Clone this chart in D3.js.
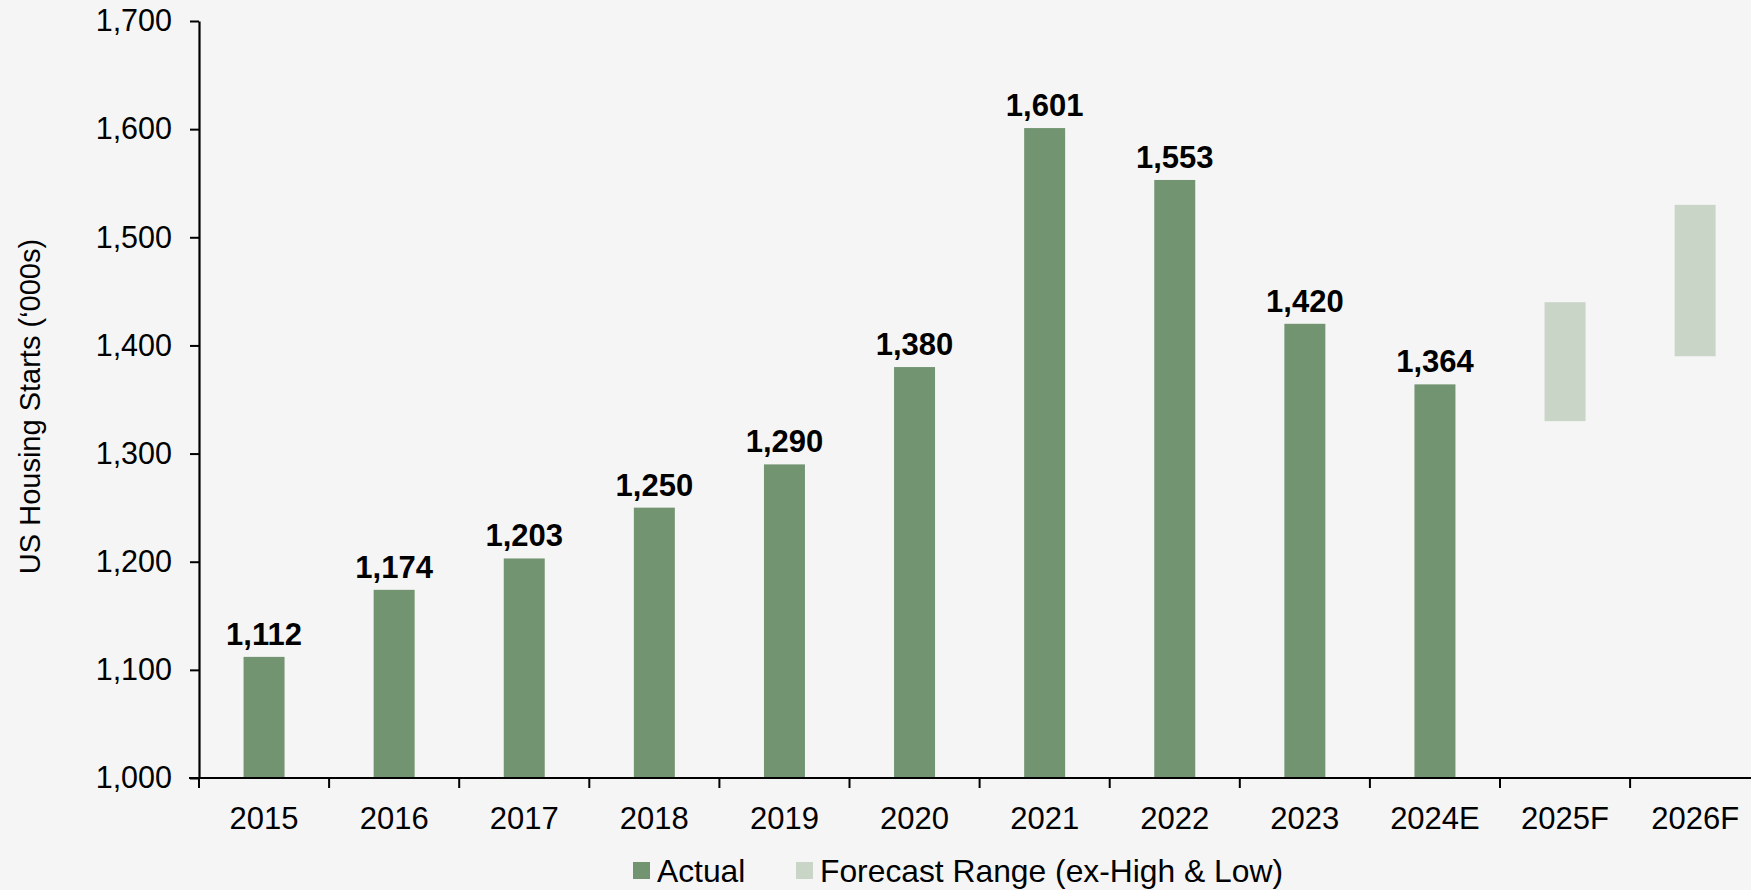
<!DOCTYPE html>
<html>
<head>
<meta charset="utf-8">
<script src="https://cdn.jsdelivr.net/npm/d3@7"></script>
<style>
  html, body { margin: 0; padding: 0; background: #f5f5f5; }
  svg { display: block; }
  text { font-family: "Liberation Sans", Arial, sans-serif; fill: #000; }
</style>
</head>
<body>
<svg id="chart" width="1751" height="890"></svg>
<script>
const categories = ["2015","2016","2017","2018","2019","2020","2021","2022","2023","2024E","2025F","2026F"];
const actualCats = ["2015","2016","2017","2018","2019","2020","2021","2022","2023","2024E"];
const actualValues = [1112, 1174, 1203, 1250, 1290, 1380, 1601, 1553, 1420, 1364];
const forecastCats = ["2025F","2026F"];
const forecastLow = [1330, 1390];
const forecastHigh = [1440, 1530];
const yTicks = [1000, 1100, 1200, 1300, 1400, 1500, 1600, 1700];
const yTitle = "US Housing Starts (\u2018000s)";
const legendLabels = ["Actual", "Forecast Range (ex-High & Low)"];

(function () {
const colActual = "#739471";
const colForecast = "#c9d5c7";

const svg = d3.select("#chart");
const W = 1751, H = 890;
svg.append("rect").attr("width", W).attr("height", H).attr("fill", "#f5f5f5");

const pLeft = 199, pBottom = 778, pTop = 21;
const step = 130.1;
const pRight = pLeft + step * categories.length;

const xBand = d3.scaleBand().domain(categories).range([pLeft, pRight]).padding(0);
const x = d3.scaleBand().domain(categories).range([pLeft, pRight])
  .paddingInner(0.685).paddingOuter(0.3425);
const y = d3.scaleLinear().domain([1000, 1700]).range([pBottom, pTop]);

const fmt = d3.format(",");

// bars
svg.append("g").selectAll("rect").data(actualCats).join("rect")
  .attr("x", d => x(d))
  .attr("width", x.bandwidth())
  .attr("y", (d, i) => y(actualValues[i]))
  .attr("height", (d, i) => y(1000) - y(actualValues[i]))
  .attr("fill", colActual);

svg.append("g").selectAll("rect").data(forecastCats).join("rect")
  .attr("x", d => x(d))
  .attr("width", x.bandwidth())
  .attr("y", (d, i) => y(forecastHigh[i]))
  .attr("height", (d, i) => y(forecastLow[i]) - y(forecastHigh[i]))
  .attr("fill", colForecast);

// value labels
svg.append("g").selectAll("text").data(actualCats).join("text")
  .attr("x", d => x(d) + x.bandwidth() / 2)
  .attr("y", (d, i) => y(actualValues[i]) - 12)
  .attr("text-anchor", "middle")
  .attr("font-size", 31)
  .attr("font-weight", "bold")
  .text((d, i) => fmt(actualValues[i]));

// y axis
const yAxis = d3.axisLeft(y).tickValues(yTicks).tickFormat(fmt).tickSizeOuter(0).tickSizeInner(9).tickPadding(18);
const gy = svg.append("g").attr("transform", `translate(${pLeft},0)`).call(yAxis);
gy.select(".domain").attr("stroke", "#000").attr("stroke-width", 2.2);
gy.selectAll(".tick line").attr("stroke", "#000").attr("stroke-width", 2);
gy.selectAll(".tick text").attr("font-size", 30.5).attr("font-family", "Liberation Sans, Arial, sans-serif").attr("fill", "#000");

// x axis
const gx = svg.append("g");
gx.append("line").attr("x1", pLeft - 10).attr("x2", W).attr("y1", y(1000)).attr("y2", y(1000))
  .attr("stroke", "#000").attr("stroke-width", 2.2);
gx.selectAll("line.tk").data(categories).join("line").attr("class", "tk")
  .attr("x1", d => xBand(d)).attr("x2", d => xBand(d))
  .attr("y1", y(1000)).attr("y2", y(1000) + 10)
  .attr("stroke", "#000").attr("stroke-width", 2);
gx.selectAll("text").data(categories).join("text")
  .attr("x", d => xBand(d) + xBand.bandwidth() / 2)
  .attr("y", 829)
  .attr("text-anchor", "middle")
  .attr("font-size", 31)
  .text(d => d);

// y title
svg.append("text")
  .attr("transform", `translate(40,${(pTop + pBottom) / 2 + 7}) rotate(-90)`)
  .attr("text-anchor", "middle")
  .attr("font-size", 29)
  .text(yTitle);

// legend
const legend = svg.append("g");
const legX = [633, 796];
const legCols = [colActual, colForecast];
legendLabels.forEach((lab, i) => {
  legend.append("rect").attr("x", legX[i]).attr("y", 862).attr("width", 17).attr("height", 17).attr("fill", legCols[i]);
  legend.append("text").attr("x", legX[i] + 24).attr("y", 882).attr("font-size", 31.8).text(lab);
});
})();
</script>
</body>
</html>
